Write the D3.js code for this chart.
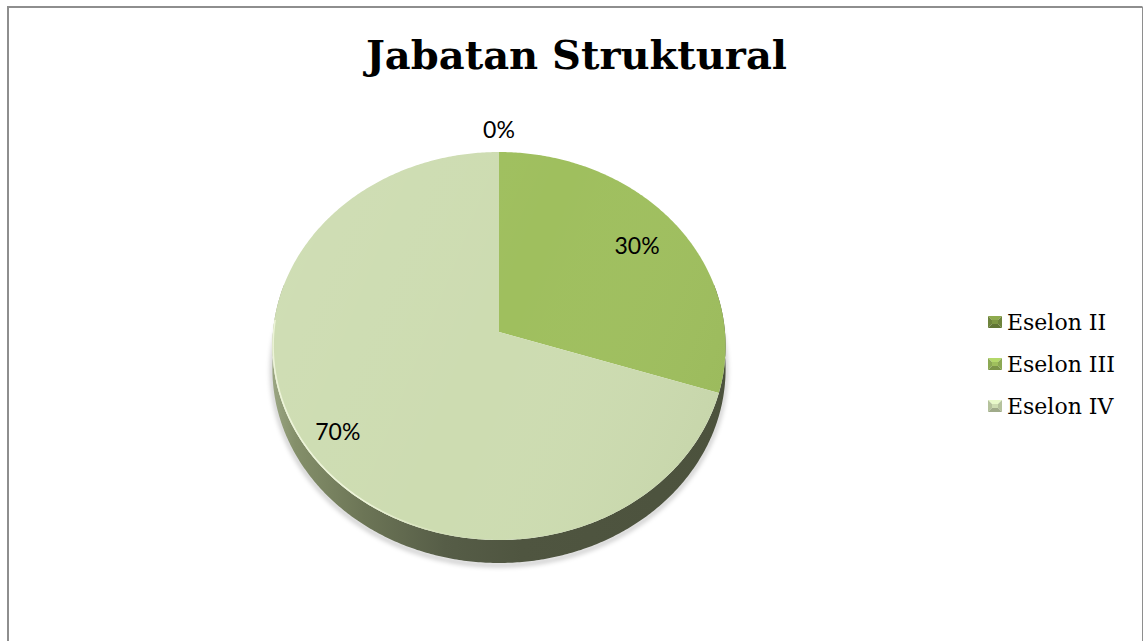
<!DOCTYPE html>
<html>
<head>
<meta charset="utf-8">
<style>
html,body{margin:0;padding:0;background:#fff;}
svg{display:block;}
</style>
<script src="https://cdn.jsdelivr.net/npm/d3@7/dist/d3.min.js"></script>
</head>
<body>
<svg id="chart" width="1143" height="641"></svg>
<script>
const chartTitle = "Jabatan Struktural";
const categories = ["Eselon II", "Eselon III", "Eselon IV"];
const shares = [0, 30, 70];
const sliceColors = ["#7d9644", "#9fbf5e", "#cddcb1"];
const labelRadii = [1.13, 0.78, 0.85];

const W = 1143, H = 641;
const svg = d3.select("#chart");
const defs = svg.append("defs");

// Tilted disc: a unit circle under a perspective map, so the hub sits above the ellipse middle.
const cx = 499, hubY = 332, spanX = 226, spanY = 169, tilt = -0.0722, depth = 23;
const project = (r, angle) => {
  const u = r * Math.sin(angle), v = -r * Math.cos(angle);
  const w = 1 + tilt * v;
  return [cx + spanX * u / w, (spanY * v + hubY) / w];
};
const pieAngles = d3.pie().sort(null).value(d => d)(shares);
const line = d3.line();
const arcPoints = (a0, a1, r = 1) => {
  const steps = Math.max(1, Math.ceil(Math.abs(a1 - a0) / 0.01));
  return d3.range(steps + 1).map(i => project(r, a0 + (a1 - a0) * i / steps));
};

// Gradients and soft edges
const wallGrad = defs.append("linearGradient").attr("id", "wall")
  .attr("gradientUnits", "userSpaceOnUse").attr("x1", 273).attr("x2", 726).attr("y1", 0).attr("y2", 0);
[[0, "#9aa582"], [0.05, "#848f6a"], [0.2, "#6c7556"], [0.38, "#565d47"], [0.55, "#4f5540"], [1, "#4c523d"]]
  .forEach(([o, c]) => wallGrad.append("stop").attr("offset", o).attr("stop-color", c));

const rimGrad = defs.append("linearGradient").attr("id", "rim")
  .attr("gradientUnits", "userSpaceOnUse").attr("x1", 273).attr("x2", 470).attr("y1", 0).attr("y2", 0);
[[0, "#f0f6dc", 0.9], [0.45, "#f2f8de", 0.9], [0.8, "#e4eccb", 0.4], [1, "#d6e2bc", 0]]
  .forEach(([o, c, a]) => rimGrad.append("stop").attr("offset", o).attr("stop-color", c).attr("stop-opacity", a));

const faceGrad = defs.append("linearGradient").attr("id", "faceShade")
  .attr("gradientUnits", "userSpaceOnUse").attr("x1", 273).attr("x2", 726).attr("y1", 250).attr("y2", 430);
[[0, "#ffffff", 0.05], [0.5, "#ffffff", 0], [1, "#5c6a3c", 0.06]]
  .forEach(([o, c, a]) => faceGrad.append("stop").attr("offset", o).attr("stop-color", c).attr("stop-opacity", a));

defs.append("filter").attr("id", "soft").attr("x", "-10%").attr("y", "-10%").attr("width", "120%").attr("height", "120%")
  .append("feGaussianBlur").attr("stdDeviation", 2.5);
defs.append("filter").attr("id", "softEdge").attr("x", "-10%").attr("y", "-10%").attr("width", "120%").attr("height", "120%")
  .append("feGaussianBlur").attr("stdDeviation", 0.7);

// Chart frame
svg.append("path")
  .attr("d", `M8,${H + 4}V7H1142.5`)
  .attr("fill", "none").attr("stroke", "#8e8e8e").attr("stroke-width", 2);
svg.append("line").attr("x1", 1142.5).attr("x2", 1142.5).attr("y1", 7).attr("y2", H)
  .attr("stroke", "#8e8e8e").attr("stroke-width", 1);

// Title
svg.append("text")
  .attr("x", 576.5).attr("y", 69)
  .attr("text-anchor", "middle")
  .attr("font-family", "'DejaVu Serif'")
  .attr("font-weight", "bold")
  .attr("font-size", 40)
  .attr("fill", "#000")
  .text(chartTitle);

// Extruded side of the disc
const wallStart = Math.PI * 0.42, wallEnd = Math.PI * 1.58;
const front = arcPoints(wallStart, wallEnd);
const wallOutline = front.concat(front.map(([x, y]) => [x, y + depth]).reverse());
svg.append("path")
  .attr("d", line(front.map(([x, y]) => [x, y + depth + 2])))
  .attr("fill", "none").attr("stroke", "#000").attr("stroke-opacity", 0.3)
  .attr("stroke-width", 3).attr("filter", "url(#soft)");
svg.append("path")
  .attr("d", line(wallOutline) + "Z")
  .attr("fill", "url(#wall)");

// Top face, one wedge per share
const face = svg.append("g");
face.selectAll("path.wedge")
  .data(pieAngles)
  .join("path")
  .attr("class", "wedge")
  .attr("fill", (d, i) => sliceColors[i])
  .attr("d", d => d.endAngle === d.startAngle
    ? null
    : line([project(0, 0), ...arcPoints(d.startAngle, d.endAngle)]) + "Z");
face.append("path")
  .attr("d", line(arcPoints(0, Math.PI * 2)) + "Z")
  .attr("fill", "url(#faceShade)");

// Light catch along the lower-left rim
svg.append("path")
  .attr("d", line(arcPoints(Math.PI * 1.02, Math.PI * 1.52, 0.997)))
  .attr("fill", "none").attr("stroke", "url(#rim)").attr("stroke-width", 1.6)
  .attr("filter", "url(#softEdge)");

// Data labels
svg.selectAll("text.pct")
  .data(pieAngles)
  .join("text")
  .attr("class", "pct")
  .attr("text-anchor", "middle")
  .attr("font-family", "Lato")
  .attr("font-size", 23)
  .attr("fill", "#000")
  .attr("transform", (d, i) => {
    const [x, y] = project(labelRadii[i], (d.startAngle + d.endAngle) / 2);
    return `translate(${x},${y + 8})`;
  })
  .text(d => d.value + "%");

// Legend with bevelled keys
const legendY = d3.scalePoint().domain(categories).range([322, 406]);
const shade = (c, k) => k > 0 ? d3.rgb(c).brighter(k).formatHex() : d3.rgb(c).darker(-k).formatHex();
const legend = svg.selectAll("g.key").data(categories).join("g")
  .attr("class", "key")
  .attr("transform", d => `translate(988,${legendY(d) - 6})`);
const keySize = 14, keyHeight = 12, inset = 4;
legend.each(function (d, i) {
  const g = d3.select(this), c = sliceColors[i];
  const sides = [
    [[0, 0], [keySize, 0], [keySize - inset, inset], [inset, inset], 0.35],
    [[0, 0], [inset, inset], [inset, keyHeight - inset], [0, keyHeight], -0.35],
    [[keySize, 0], [keySize - inset, inset], [keySize - inset, keyHeight - inset], [keySize, keyHeight], -0.35],
    [[0, keyHeight], [inset, keyHeight - inset], [keySize - inset, keyHeight - inset], [keySize, keyHeight], -0.7]
  ];
  sides.forEach(s => g.append("path")
    .attr("d", line(s.slice(0, 4)) + "Z")
    .attr("fill", shade(c, s[4])));
  g.append("rect").attr("x", inset).attr("y", inset)
    .attr("width", keySize - 2 * inset).attr("height", keyHeight - 2 * inset)
    .attr("fill", c);
});
legend.append("text")
  .attr("x", 19).attr("y", 6)
  .attr("dy", "0.36em")
  .attr("font-family", "'DejaVu Serif'")
  .attr("font-size", 22)
  .attr("fill", "#000")
  .text(d => d);
</script>
</body>
</html>
